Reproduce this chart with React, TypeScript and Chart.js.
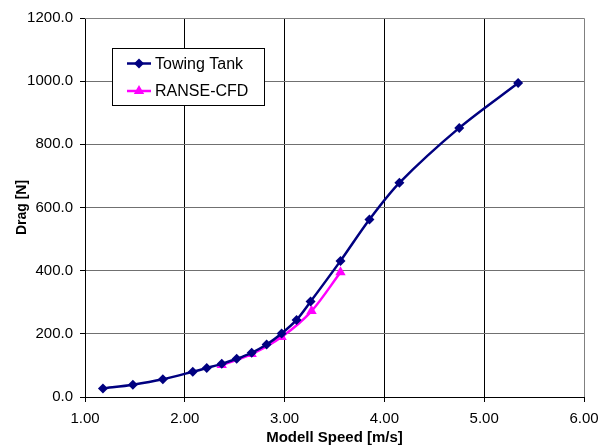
import { useEffect, useRef } from "react";
import { Chart, registerables } from "chart.js";

Chart.register(...registerables);

const towingSpeed = [1.18, 1.48, 1.78, 2.08, 2.22, 2.37, 2.52, 2.67, 2.82, 2.97, 3.12, 3.26, 3.56, 3.85, 4.15, 4.75, 5.34];
const towingDrag = [27, 39, 56, 80, 92, 105, 121, 140, 166, 201, 244, 302, 431, 562, 678, 852, 994];
const cfdSpeed = [2.37, 2.67, 2.97, 3.27, 3.56];
const cfdDrag = [101, 136, 190, 272, 395];

const xTicks = [1, 2, 3, 4, 5, 6];
const yTicks = [0, 200, 400, 600, 800, 1000, 1200];

const seriesLabels = ["Towing Tank", "RANSE-CFD"];
const xTitle = "Modell Speed [m/s]";
const yTitle = "Drag [N]";

const NAVY = "#000080";
const MAGENTA = "#FF00FF";
const FONT = "'Liberation Sans', Arial, sans-serif";

function drawDiamond(ctx: CanvasRenderingContext2D, x: number, y: number, r: number, color: string) {
  ctx.beginPath();
  ctx.moveTo(x, y - r);
  ctx.lineTo(x + r, y);
  ctx.lineTo(x, y + r);
  ctx.lineTo(x - r, y);
  ctx.closePath();
  ctx.fillStyle = color;
  ctx.fill();
}

function drawTriangle(ctx: CanvasRenderingContext2D, x: number, y: number, r: number, color: string) {
  ctx.beginPath();
  for (let i = 0; i < 3; i++) {
    const a = (i * 2 * Math.PI) / 3;
    const px = x + Math.sin(a) * r;
    const py = y - Math.cos(a) * r;
    if (i === 0) ctx.moveTo(px, py);
    else ctx.lineTo(px, py);
  }
  ctx.closePath();
  ctx.fillStyle = color;
  ctx.fill();
}

export default function App() {
  const ref = useRef<HTMLCanvasElement>(null);

  useEffect(() => {
    if (!ref.current) return;

    const framePlugin = {
      id: "frame",
      beforeDatasetsDraw(chart: any) {
        const { ctx, chartArea } = chart;
        const { left, top, right, bottom } = chartArea;
        ctx.save();
        ctx.strokeStyle = "#808080";
        ctx.lineWidth = 1;
        ctx.beginPath();
        const t = Math.round(top) + 0.5;
        const r = Math.round(right) + 0.5;
        ctx.moveTo(Math.round(left), t);
        ctx.lineTo(r, t);
        ctx.lineTo(r, Math.round(bottom));
        ctx.stroke();
        ctx.restore();
      },
    };

    const legendPlugin = {
      id: "boxLegend",
      afterDatasetsDraw(chart: any) {
        const ctx: CanvasRenderingContext2D = chart.ctx;
        const bx = 112.5, by = 48.5, bw = 152, bh = 57;
        ctx.save();
        ctx.fillStyle = "#ffffff";
        ctx.fillRect(bx, by, bw, bh);
        ctx.strokeStyle = "#000000";
        ctx.lineWidth = 1;
        ctx.strokeRect(bx, by, bw, bh);
        const rows = [63.5, 91];
        const colors = [NAVY, MAGENTA];
        rows.forEach((ry, i) => {
          ctx.strokeStyle = colors[i];
          ctx.lineWidth = 2.5;
          ctx.beginPath();
          ctx.moveTo(127, ry);
          ctx.lineTo(151, ry);
          ctx.stroke();
          if (i === 0) drawDiamond(ctx, 139, ry, 5, colors[i]);
          else drawTriangle(ctx, 139, ry, 6, colors[i]);
          ctx.fillStyle = "#000000";
          ctx.font = `16px ${FONT}`;
          ctx.textBaseline = "middle";
          ctx.textAlign = "left";
          ctx.fillText(chart.data.datasets[i].label, 155, ry + 1);
        });
        ctx.restore();
      },
    };

    const chart = new Chart(ref.current, {
      type: "line",
      data: {
        datasets: [
          {
            label: seriesLabels[0],
            data: towingSpeed.map((x, i) => ({ x, y: towingDrag[i] })),
            borderColor: NAVY,
            backgroundColor: NAVY,
            borderWidth: 2.5,
            pointStyle: "rectRot",
            pointRadius: 5,
            pointBorderWidth: 0,
            tension: 0.3,
          },
          {
            label: seriesLabels[1],
            data: cfdSpeed.map((x, i) => ({ x, y: cfdDrag[i] })),
            borderColor: MAGENTA,
            backgroundColor: MAGENTA,
            borderWidth: 2.5,
            pointStyle: "triangle",
            pointRadius: 6,
            pointBorderWidth: 0,
            tension: 0.3,
          },
        ],
      },
      options: {
        responsive: false,
        animation: false,
        layout: { padding: { left: 0, top: 18, right: 24, bottom: 0 } },
        plugins: {
          legend: { display: false },
          tooltip: { enabled: false },
        },
        scales: {
          x: {
            type: "linear",
            min: xTicks[0],
            max: xTicks[xTicks.length - 1],
            afterBuildTicks: (s: any) => {
              s.ticks = xTicks.map((v) => ({ value: v }));
            },
            afterFit: (s: any) => {
              s.height = 48;
            },
            grid: {
              color: (c: any) => (c.tick && c.tick.value === xTicks[xTicks.length - 1] ? "rgba(0,0,0,0)" : "#000000"),
              tickColor: "#000000",
              tickLength: 5,
              lineWidth: 1,
            },
            border: { display: true, color: "#000000", width: 1 },
            ticks: {
              color: "#000000",
              font: { family: FONT, size: 15 },
              padding: 8,
              maxRotation: 0,
              callback: (v: any) => Number(v).toFixed(2),
            },
            title: {
              display: true,
              text: xTitle,
              color: "#000000",
              font: { family: FONT, size: 15, weight: "bold", lineHeight: 1 },
              padding: { top: 0, bottom: 0 },
            },
          },
          y: {
            type: "linear",
            min: yTicks[0],
            max: yTicks[yTicks.length - 1],
            afterBuildTicks: (s: any) => {
              s.ticks = yTicks.map((v) => ({ value: v }));
            },
            afterFit: (s: any) => {
              s.width = 85;
            },
            grid: {
              color: (c: any) => (c.tick && c.tick.value === yTicks[yTicks.length - 1] ? "rgba(0,0,0,0)" : "#707070"),
              tickColor: "#000000",
              tickLength: 5,
              lineWidth: 1,
            },
            border: { display: true, color: "#000000", width: 1 },
            ticks: {
              color: "#000000",
              font: { family: FONT, size: 15 },
              padding: 7,
              callback: (v: any) => Number(v).toFixed(1),
            },
            title: {
              display: true,
              text: yTitle,
              color: "#000000",
              font: { family: FONT, size: 14, weight: "bold", lineHeight: 1 },
              padding: { top: 15, bottom: 0 },
            },
          },
        },
      },
      plugins: [framePlugin, legendPlugin],
    } as any);

    return () => chart.destroy();
  }, []);

  return (
    <div style={{ position: "absolute", left: 0, top: 0, width: 608, height: 445, background: "#ffffff" }}>
      <canvas ref={ref} width={608} height={445} style={{ width: 608, height: 445, display: "block" }} />
    </div>
  );
}
